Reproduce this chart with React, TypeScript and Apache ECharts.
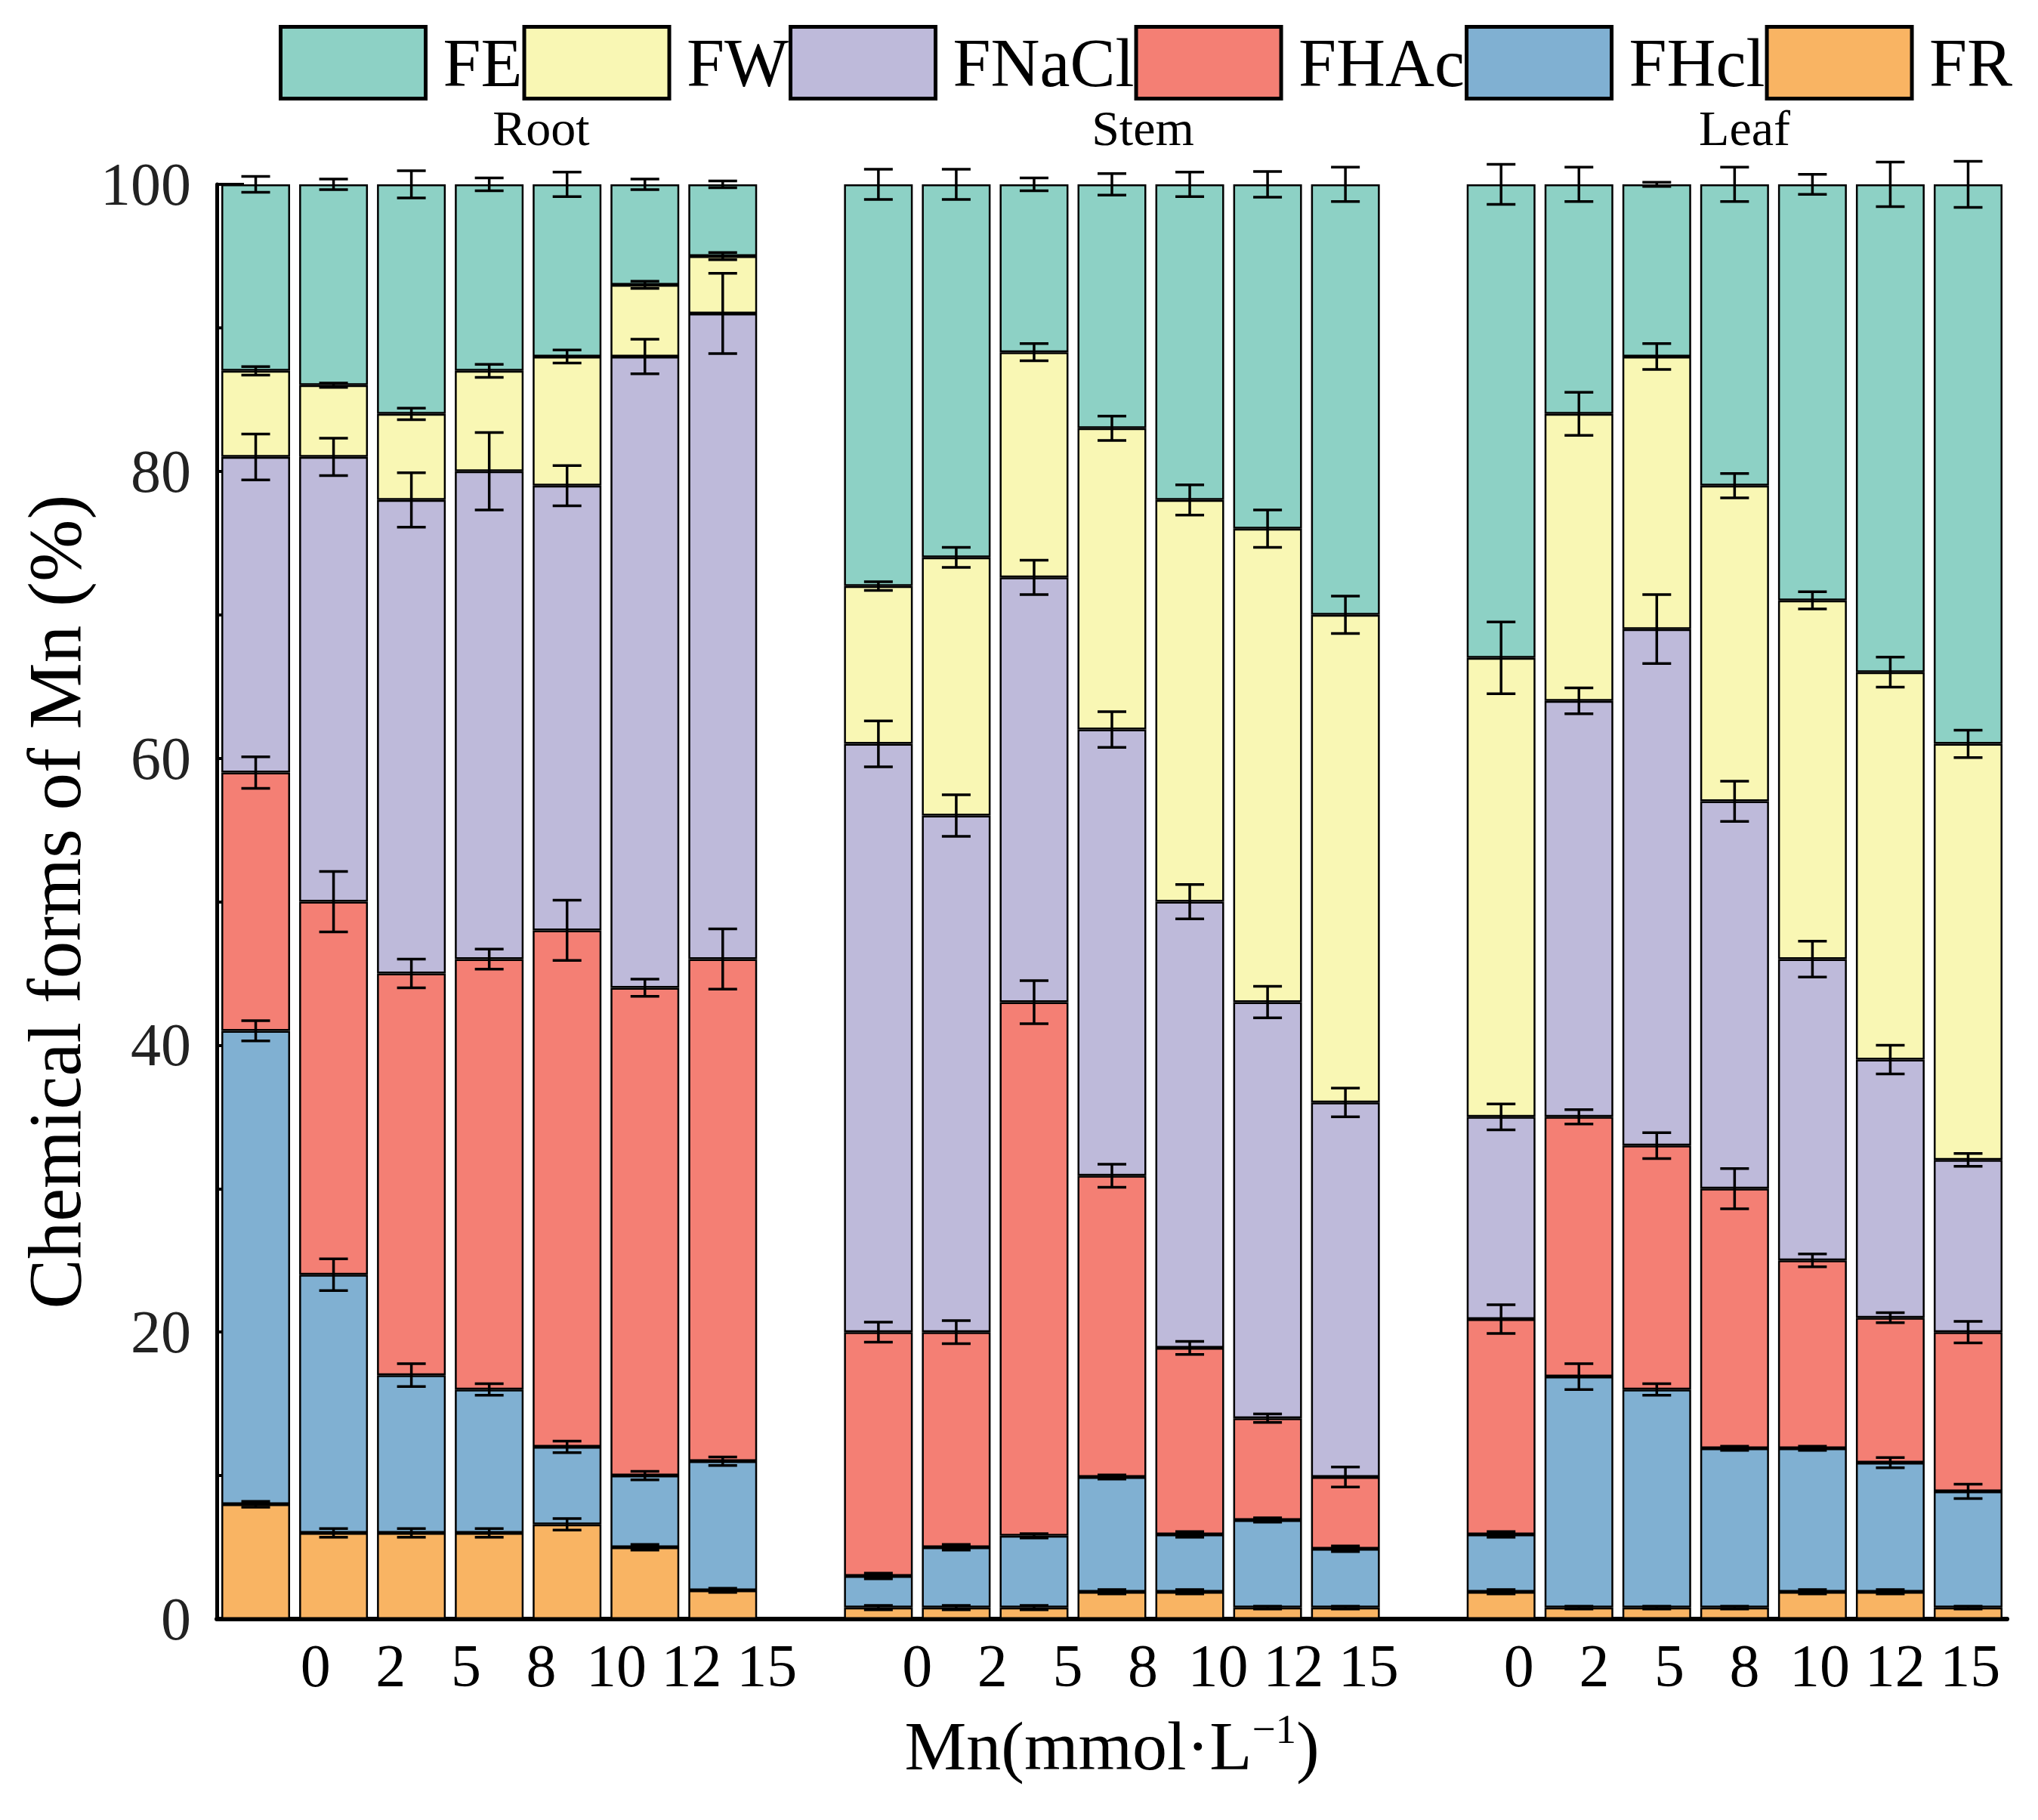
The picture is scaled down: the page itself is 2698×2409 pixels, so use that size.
import React, { useEffect, useRef } from 'react';
import * as echarts from 'echarts';

const groups = ['Root', 'Stem', 'Leaf'];
const doses = ['0', '2', '5', '8', '10', '12', '15'];

// stacked bottom -> top
const formNames = ['FR', 'FHcl', 'FHAc', 'FNaCl', 'FW', 'FE'];
const legendOrder = ['FE', 'FW', 'FNaCl', 'FHAc', 'FHcl', 'FR'];
const formColors = ['#F9B463', '#80B0D2', '#F47F74', '#BEBADA', '#F9F7B4', '#8DD1C5'];

// share (%) per form: Root x7, Stem x7, Leaf x7
const frValues = [8, 6, 6, 6, 6.6, 5, 2, 0.8, 0.8, 0.8, 1.9, 1.9, 0.8, 0.8, 1.9, 0.8, 0.8, 0.8, 1.9, 1.9, 0.8];
const fhclValues = [33, 18, 11, 10, 5.4, 5, 9, 2.2, 4.2, 5, 8, 4, 6.1, 4.1, 4, 16.1, 15.2, 11.1, 10, 9, 8.1];
const fhacValues = [18, 26, 28, 30, 36, 34, 35, 17, 15, 37.2, 21, 13, 7.1, 5, 15, 18.1, 17, 18.1, 13.1, 10.1, 11.1];
const fnaclValues = [22, 31, 33, 34, 31, 44, 45, 41, 36, 29.6, 31.1, 31.1, 29, 26.1, 14.1, 29, 36, 27, 21, 18, 12];
const fwValues = [6, 5, 6, 7, 9, 5, 4, 11, 18, 15.7, 21, 28, 33, 34, 32, 20, 19, 22, 25, 27, 29];
const feValues = [13, 14, 16, 13, 12, 7, 5, 28, 26, 11.7, 17, 22, 24, 30, 33, 16, 12, 21, 29, 34, 39];

// standard deviations, same order
const frErrors = [0.2, 0.3, 0.3, 0.3, 0.4, 0.2, 0.15, 0.15, 0.15, 0.15, 0.15, 0.15, 0.1, 0.1, 0.15, 0.1, 0.1, 0.1, 0.15, 0.15, 0.1];
const fhclErrors = [0.7, 1.1, 0.8, 0.4, 0.4, 0.3, 0.3, 0.2, 0.2, 0.15, 0.15, 0.2, 0.15, 0.2, 0.2, 0.9, 0.4, 0.15, 0.15, 0.35, 0.5];
const fhacErrors = [1.1, 2.1, 1, 0.7, 2.1, 0.6, 2.1, 0.7, 0.8, 1.5, 0.8, 0.45, 0.3, 0.7, 1, 0.5, 0.9, 1.4, 0.45, 0.35, 0.75];
const fnaclErrors = [1.6, 1.3, 1.9, 2.7, 1.4, 1.2, 2.8, 1.6, 1.45, 1.2, 1.25, 1.2, 1.1, 1, 0.9, 0.9, 2.4, 1.4, 1.25, 1, 0.45];
const fwErrors = [0.3, 0.15, 0.4, 0.45, 0.45, 0.25, 0.25, 0.3, 0.7, 0.6, 0.85, 1.05, 1.3, 1.3, 2.5, 1.5, 0.9, 0.85, 0.6, 1.05, 0.95];
const feErrors = [0.55, 0.37, 0.95, 0.45, 0.85, 0.37, 0.24, 1.05, 1.05, 0.45, 0.75, 0.85, 0.9, 1.2, 1.4, 1.2, 0.15, 1.2, 0.7, 1.55, 1.6];

const FONT = '"Liberation Serif", "Times New Roman", serif';

const App: React.FC = () => {
  const chartRef = useRef<HTMLDivElement>(null);

  useEffect(() => {
    if (!chartRef.current) return;
    const chart = echarts.init(chartRef.current, undefined, { renderer: 'svg' });

    const values = [frValues, fhclValues, fhacValues, fnaclValues, fwValues, feValues];
    const errors = [frErrors, fhclErrors, fhacErrors, fnaclErrors, fwErrors, feErrors];

    // 7 bars per organ with one empty slot between organs
    const perGroup = doses.length;
    const slotCount = groups.length * perGroup + groups.length - 1;
    const slotOf = (i: number) => i + Math.floor(i / perGroup);

    const barCats: string[] = [];
    const doseLabels: string[] = [];
    const groupLabels: string[] = [];
    for (let s = 0; s < slotCount; s++) {
      const g = Math.floor(s / (perGroup + 1));
      const k = s % (perGroup + 1);
      if (k === perGroup) {
        barCats.push('gap' + g);
        doseLabels.push('');
        groupLabels.push('');
      } else {
        barCats.push(groups[g] + ' ' + doses[k]);
        doseLabels.push(doses[k]);
        groupLabels.push(k === Math.floor(perGroup / 2) ? groups[g] : '');
      }
    }

    const padded = (arr: number[]) => {
      const out: (number | null)[] = new Array(slotCount).fill(null);
      arr.forEach((v, i) => (out[slotOf(i)] = v));
      return out;
    };

    const barSeries = formNames.map((name, f) => ({
      name,
      type: 'bar' as const,
      stack: 'total',
      xAxisIndex: 0,
      yAxisIndex: 0,
      barWidth: 91,
      data: padded(values[f]),
      itemStyle: { color: formColors[f], borderColor: '#000', borderWidth: 2.5 },
    }));

    const errSeries = formNames.map((name, f) => {
      const data = values[f].map((_, i) => {
        let top = 0;
        for (let j = 0; j <= f; j++) top += values[j][i];
        return [slotOf(i), top, errors[f][i]];
      });
      return {
        name: name + ' SD',
        type: 'custom' as const,
        xAxisIndex: 0,
        yAxisIndex: 0,
        z: 10,
        silent: true,
        encode: { x: 0, y: 1 },
        data,
        renderItem: (_params: any, api: any) => {
          const x = api.value(0);
          const top = api.value(1);
          const err = api.value(2);
          const hi = api.coord([x, top + err]);
          const lo = api.coord([x, top - err]);
          const cx = hi[0];
          const half = 19;
          const style = { stroke: '#000', lineWidth: 3.5 };
          return {
            type: 'group',
            children: [
              { type: 'line', shape: { x1: cx, y1: hi[1], x2: cx, y2: lo[1] }, style },
              { type: 'line', shape: { x1: cx - half, y1: hi[1], x2: cx + half, y2: hi[1] }, style },
              { type: 'line', shape: { x1: cx - half, y1: lo[1], x2: cx + half, y2: lo[1] }, style },
            ],
          };
        },
      };
    });

    const option: any = {
      animation: false,
      backgroundColor: '#fff',
      legend: {
        top: 28,
        left: 364,
        width: 2330,
        icon: 'rect',
        itemWidth: 192,
        itemHeight: 95,
        itemGap: 0,
        data: legendOrder,
        itemStyle: { borderColor: '#000', borderWidth: 5 },
        textStyle: { fontSize: 90, fontFamily: FONT, color: '#000', padding: [0, 0, 0, 18] },
      },
      grid: [
        { left: 287, right: 41, top: 244, bottom: 266 },
        { left: 368, width: 2290, top: 244, bottom: 266 },
      ],
      xAxis: [
        {
          gridIndex: 0,
          type: 'category',
          data: barCats,
          axisTick: { show: false },
          axisLabel: { show: false },
          axisLine: { lineStyle: { color: '#000', width: 6 } },
          name: '{a|Mn(mmol·L}{b|−1}{a|)}',
          nameLocation: 'middle',
          nameGap: 118,
          nameTextStyle: {
            rich: {
              a: { fontSize: 92, fontFamily: FONT, color: '#000', lineHeight: 100 },
              b: { fontSize: 55, fontFamily: FONT, color: '#000', lineHeight: 60, verticalAlign: 'top' },
            },
          },
        },
        {
          gridIndex: 1,
          type: 'category',
          data: doseLabels,
          axisLine: { show: false },
          axisTick: { show: false },
          axisLabel: { interval: 0, fontSize: 80, margin: 22, fontFamily: FONT, color: '#000' },
        },
        {
          gridIndex: 1,
          type: 'category',
          position: 'top',
          data: groupLabels,
          axisLine: { show: false },
          axisTick: { show: false },
          axisLabel: { interval: 0, fontSize: 66, margin: 42, fontFamily: FONT, color: '#000' },
        },
      ],
      yAxis: [
        {
          gridIndex: 0,
          type: 'value',
          min: 0,
          max: 100,
          interval: 20,
          axisLine: { show: true, lineStyle: { color: '#000', width: 5 } },
          axisTick: { show: true, inside: true, length: 36, lineStyle: { color: '#000', width: 4 } },
          minorTick: { show: true, splitNumber: 2, length: 18, lineStyle: { color: '#000', width: 4 } },
          splitLine: { show: false },
          axisLabel: { fontSize: 80, margin: 34, fontFamily: FONT, color: '#222' },
          name: 'Chemical forms of Mn (%)',
          nameLocation: 'middle',
          nameGap: 150,
          nameTextStyle: { fontSize: 99, fontFamily: FONT, color: '#000' },
        },
        { gridIndex: 1, type: 'value', min: 0, max: 100, show: false },
      ],
      series: [...barSeries, ...errSeries],
    };

    chart.setOption(option);

    return () => {
      chart.dispose();
    };
  }, []);

  return (
    <div
      ref={chartRef}
      style={{ position: 'absolute', left: 0, top: 0, width: 2698, height: 2409, background: '#fff' }}
    />
  );
};

export default App;
